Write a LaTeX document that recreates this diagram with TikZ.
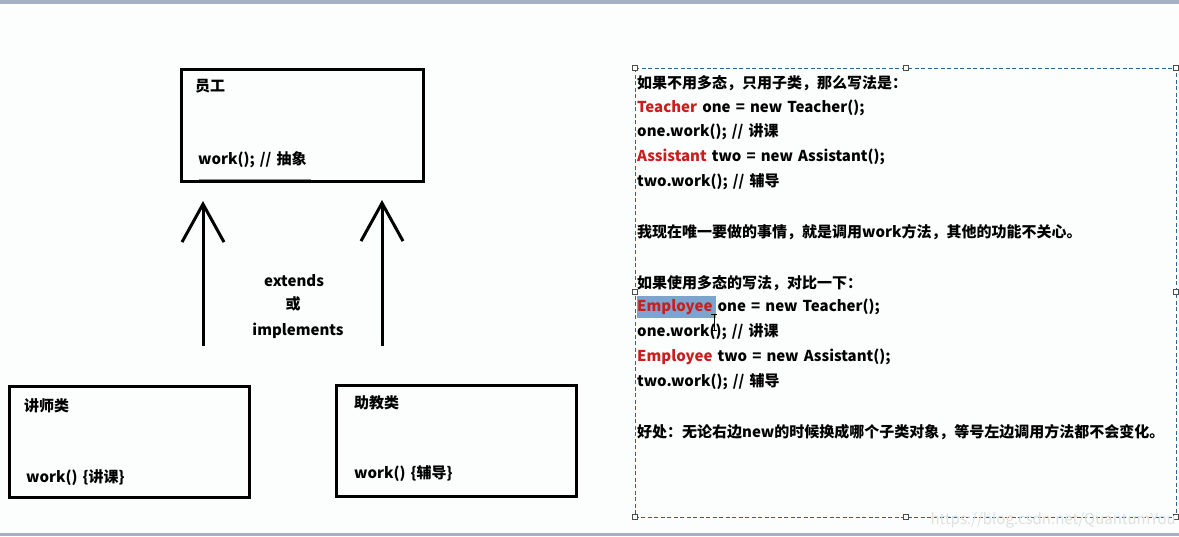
\documentclass[tikz,border=0pt]{standalone}
\usepackage{fontspec}
\setmainfont{Noto Sans CJK SC}[WordSpace=1.5]
\usepackage{tikz}
\usetikzlibrary{arrows.meta}
\definecolor{kwred}{RGB}{200,30,30}
\definecolor{selblue}{RGB}{125,164,206}
\definecolor{framebl}{RGB}{45,100,150}
\definecolor{bargray}{RGB}{165,176,195}
\definecolor{paper}{RGB}{251,254,252}

\begin{document}
\begin{tikzpicture}[x=1pt,y=-1pt,box/.style={draw,line width=3pt,minimum width=#1,minimum height=111pt,inner sep=0pt},
txt/.style={anchor=west,inner sep=0pt,font=\fontsize{15}{15}\selectfont\bfseries},
up/.style={line width=3pt,-{Straight Barb[length=38pt,width=42pt]}},
handle/.style={draw=black!70,fill=white,line width=0.5pt,minimum size=5pt,inner sep=0pt}]
\fill[paper] (0,0) rectangle (1179,536);
\fill[bargray] (0,0) rectangle (1179,4);
\fill[bargray] (0,533) rectangle (1179,536);
% class boxes
\node[box=242pt,minimum height=112pt] (emp) at (302.5,125.5) {};
\node[box=240pt] (tea) at (129.5,441.5) {};
\node[box=240pt] (asi) at (456.5,440.5) {};
\draw[black!45,line width=1pt] (199,179) -- (311,179);
\node[txt] (empname) at (195,86) {员工};
\node[txt] (empwork) at (198,160) {work(); // 抽象};
\node[txt] (teaname) at (24,406) {讲师类};
\node[txt] (teawork) at (26,478) {work() \{讲课\}};
\node[txt] (asiname) at (354,403) {助教类};
\node[txt] (asiwork) at (354,474) {work() \{辅导\}};
% inheritance arrows
\coordinate (la0) at (203,346); \coordinate (la1) at (203,201);
\coordinate (ra0) at (382,346); \coordinate (ra1) at (382,200);
\draw[up] (la0) -- (la1);
\draw[up] (ra0) -- (ra1);
\node[txt,anchor=center] (ext) at (294,281) {extends};
\node[txt,anchor=center] (or) at (293,304) {或};
\node[txt,anchor=center] (impl) at (298,331) {implements};
% code panel
\draw[framebl,line width=0.8pt,dash pattern=on 4pt off 2.5pt] (635,68) rectangle (1176,517);
\foreach \x/\y in {635/68,906/68,1176/68,635/292,1176/292,635/517,906/517,1176/517} {
   \node[handle] (h\x\y) at (\x,\y) {};
}
\fill[selblue] (637,296) rectangle (716,318);
\foreach \i/\y/\t in %
{1/83/{如果不用多态，只用子类，那么写法是：},
 2/108/{{\color{kwred}Teacher} one = new Teacher();},
 3/132/{one.work(); // 讲课},
 4/157/{{\color{kwred}Assistant} two = new Assistant();},
 5/182/{two.work(); // 辅导},
 6/232/{我现在唯一要做的事情，就是调用work方法，其他的功能不关心。},
 7/283/{如果使用多态的写法，对比一下：},
 8/307/{{\color{kwred}Employee} one = new Teacher();},
 9/332/{one.work(); // 讲课},
 10/357/{{\color{kwred}Employee} two = new Assistant();},
 11/382/{two.work(); // 辅导},
 12/432/{好处：无论右边new的时候换成哪个子类对象，等号左边调用方法都不会变化。}} {
   \node[txt] (line\i) at (637,\y) {\t};
}
\draw[line width=0.8pt] (711,314) -- (717,314) (714,314) -- (714,330) (711,330) -- (717,330);
\node[anchor=east,inner sep=0pt,text=black!12,font=\fontsize{15}{15}\selectfont] (mark) at (1176,520) {https://blog.csdn.net/QuantumYou};
\end{tikzpicture}
\end{document}
